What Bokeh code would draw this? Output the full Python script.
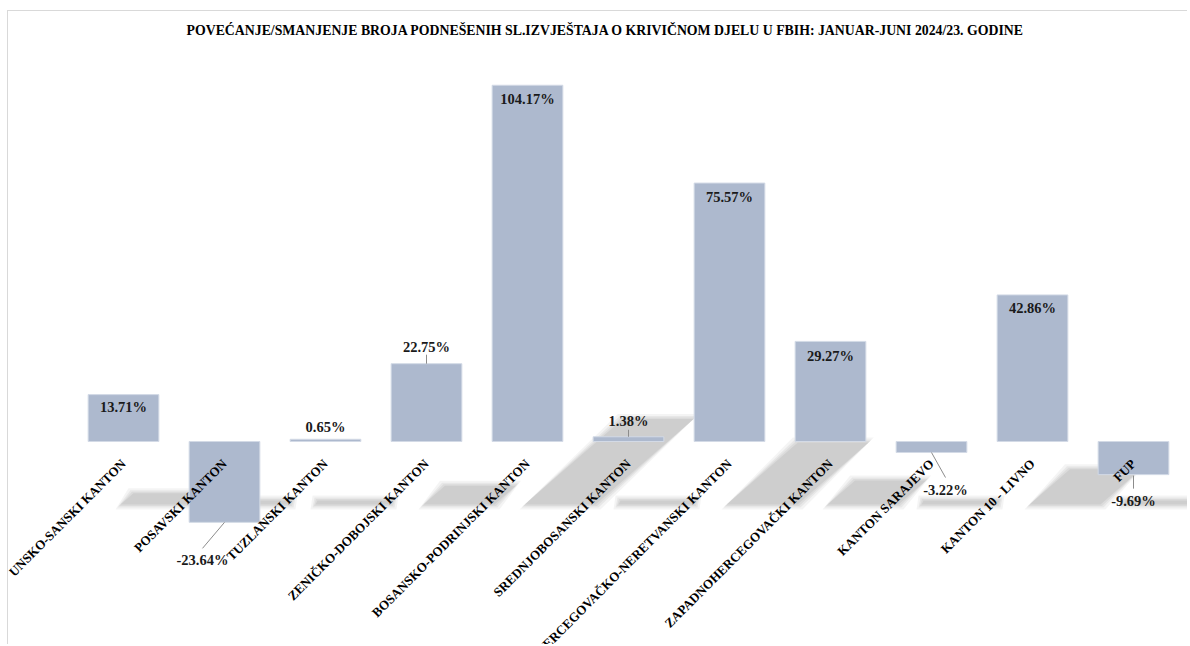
import math
from bokeh.plotting import figure
from bokeh.models import Range1d, ColumnDataSource
from bokeh.core.properties import value
from bokeh.embed import file_html
from bokeh.resources import INLINE

# ---------------- data ----------------
categories = [
    "UNSKO-SANSKI KANTON",
    "POSAVSKI KANTON",
    "TUZLANSKI KANTON",
    "ZENIČKO-DOBOJSKI KANTON",
    "BOSANSKO-PODRINJSKI KANTON",
    "SREDNJOBOSANSKI KANTON",
    "HERCEGOVAČKO-NERETVANSKI KANTON",
    "ZAPADNOHERCEGOVAČKI KANTON",
    "KANTON SARAJEVO",
    "KANTON 10 - LIVNO",
    "FUP",
]
change_pct = [13.71, -23.64, 0.65, 22.75, 104.17, 1.38, 75.57, 29.27, -3.22, 42.86, -9.69]
value_labels = [f"{v:.2f}%" for v in change_pct]
title_text = ("POVEĆANJE/SMANJENJE BROJA PODNEŠENIH SL.IZVJEŠTAJA O KRIVIČNOM DJELU "
              "U FBIH: JANUAR-JUNI 2024/23. GODINE")

# ---------------- layout (pixels, figure origin at page x=8, y=11) ----------------
OX, OY = 8, 11
W, H = 1180, 634
ZERO_Y = 441 - OY     # zero line, px from figure top
PX_Y = 3.42           # px per percentage point
PX_X = 101.0          # px per category
FIRST_X = 123 - OX    # px of first category centre
BAR_W = 0.70

# label placement relative to bar end (px, +down), leader lines
lab_dx = [0, -22, 0, 0, 0, 0, 0, 0, 14, 0, 0]
lab_dy = [12, 38, -12, -17, 14, -16, 14, 15, 37, 13, 26]
leaders = {1: (0, 0, -22, 26), 3: (0, 0, 0, -9), 5: (0, 0, 0, -7),
           8: (0, 0, 14, 25), 10: (0, 1, 0, 14)}

def dx(px):
    return px / PX_X

def dy(px):  # px measured downward
    return -px / PX_Y

FONT = value("Liberation Serif")

p = figure(width=W, height=H, output_backend="svg", toolbar_location=None,
           x_axis_type=None, y_axis_type=None,
           x_range=Range1d(-FIRST_X / PX_X, (W - FIRST_X) / PX_X),
           y_range=Range1d(-(H - ZERO_Y) / PX_Y, ZERO_Y / PX_Y),
           min_border=0)
p.outline_line_color = None
p.background_fill_color = "white"
p.border_fill_color = "white"
p.grid.visible = False
p.styles = {"margin-left": f"{OX - 1}px", "margin-top": f"{OY - 1}px",
            "border-left": "1px solid #d9d9d9", "border-top": "1px solid #d9d9d9"}

idx = list(range(len(categories)))

# ---------------- soft shadows ----------------
base = dy(63)
layers = [(5, 0.045), (3, 0.05), (1.5, 0.05), (0, 0.06)]
for e, a in layers:
    xs, ys = [], []
    for i, v in zip(idx, change_pct):
        if v > 3:
            h = 0.24 * v * PX_Y
            sk = 1.15 * h
            l = -3
            wpx = 71
        else:
            h = 4
            sk = 2
            l = -10
            wpx = 76
        x0 = i + dx(l - e)
        x1 = i + dx(l + wpx + e)
        yb = base + dy(e)
        yt = base + (h + e) / PX_Y
        s = dx(sk)
        xs.append([x0, x1, x1 + s, x0 + s])
        ys.append([yb, yb, yt, yt])
    p.patches(xs=xs, ys=ys, fill_color="black", fill_alpha=a, line_color=None)

# ---------------- bars ----------------
src = ColumnDataSource(dict(x=idx, top=change_pct, label=value_labels, cat=categories))
p.vbar(x="x", top="top", bottom=0, width=BAR_W, source=src,
       fill_color="#ADB9CE", line_color="#D3DAE6", line_width=1)

# ---------------- leader lines ----------------
lx, ly = [], []
for i, (sx, sy, ex, ey) in leaders.items():
    v = change_pct[i]
    lx.append([i + dx(sx), i + dx(ex)])
    ly.append([v + dy(sy), v + dy(ey)])
p.multi_line(xs=lx, ys=ly, line_color="#8c8c8c", line_width=1)

# ---------------- value labels ----------------
p.text(x=[i + dx(lab_dx[i]) for i in idx],
       y=[change_pct[i] + dy(lab_dy[i]) for i in idx],
       text=value_labels, text_font=FONT, text_font_style="bold",
       text_font_size="14.5px", text_color="#1a1a1a",
       text_align="center", text_baseline="middle")

# ---------------- category labels ----------------
p.text(x=[i + dx(0) for i in idx], y=[dy(20)] * len(idx), text=categories,
       angle=math.pi / 4, text_font=FONT, text_font_style="bold",
       text_font_size="13px", text_color="black",
       text_align="right", text_baseline="middle")

# ---------------- title ----------------
p.text(x=[dx(605 - OX - FIRST_X)], y=[dy(30 - OY - ZERO_Y)], text=[title_text],
       text_font=FONT, text_font_style="bold", text_font_size="13.8px",
       text_color="black", text_align="center", text_baseline="middle")

open("out.html", "w").write(file_html(p, INLINE))
